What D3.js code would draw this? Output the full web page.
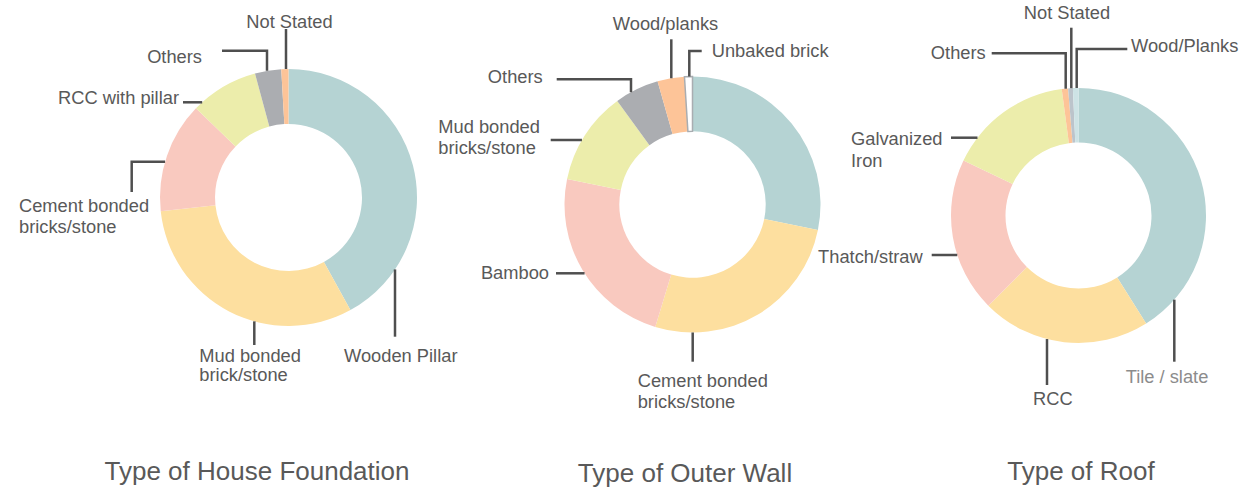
<!DOCTYPE html>
<html>
<head>
<meta charset="utf-8">
<script src="https://cdn.jsdelivr.net/npm/d3@7"></script>
<style>
  body { margin: 0; background: #fff; }
  svg text { font-family: "Liberation Sans", Arial, sans-serif; }
</style>
</head>
<body>
<script>
var width = 1243;
var height = 488;

// data (percent of households)
var foundationCats = ["Wooden Pillar", "Mud bonded brick/stone", "Cement bonded bricks/stone", "RCC with pillar", "Others", "Not Stated"];
var foundationVals = [42.0, 31.3, 13.9, 8.6, 3.3, 0.9];

var wallCats = ["", "Cement bonded bricks/stone", "Bamboo", "Mud bonded bricks/stone", "Others", "Wood/planks", "Unbaked brick"];
var wallVals = [28.2, 26.5, 23.5, 11.8, 5.6, 3.4, 1.0];

var roofCats = ["Tile / slate", "RCC", "Thatch/straw", "Galvanized Iron", "Others", "Not Stated", "Wood/Planks"];
var roofVals = [41.1, 21.4, 19.6, 15.8, 0.8, 0.6, 0.7];

var titles = ["Type of House Foundation", "Type of Outer Wall", "Type of Roof"];

// colours
var teal = "#b5d3d3", yellow = "#fddf9f", pink = "#f9c9bf", lime = "#ecedab",
    grey = "#abadb1", peach = "#fdc498";
var foundationCols = [teal, yellow, pink, lime, grey, peach];
var wallCols = [teal, yellow, pink, lime, grey, peach, "#ffffff"];
var roofCols = [teal, yellow, pink, lime, peach, "#bcc4cb", "#cde3e5"];

// label layout (relative to donut centre); leader kinds:
// v: vertical from ring, h: horizontal from ring, vh / hv: elbows
var foundationLabels = [
  {lines: ["Wooden Pillar"], tx: 55.5, ty: 164.8, anchor: "start", leader: {kind: "v", x: 106.5, side: 1, to: 139.2}},
  {lines: ["Mud bonded", "brick/stone"], tx: -89.2, ty: 164.8, lh: 18.7, anchor: "start", leader: {kind: "v", x: -34.2, side: 1, to: 147.5}},
  {lines: ["Cement bonded", "bricks/stone"], tx: -269.5, ty: 14.8, lh: 20.7, anchor: "start", leader: {kind: "hv", y: -35.8, x: -156.8, to: -5.5}},
  {lines: ["RCC with pillar"], tx: -109.5, ty: -93.5, anchor: "end", leader: {kind: "h", y: -95.2, side: -1, to: -105.5}},
  {lines: ["Others"], tx: -86.5, ty: -134.8, anchor: "end", leader: {kind: "vh", x: -21.5, y: -146.8, to: -66.5}},
  {lines: ["Not Stated"], tx: 1, ty: -169.5, anchor: "middle", leader: {kind: "v", x: -2.5, side: -1, to: -168.5}}
];

var wallLabels = [
  null,
  {lines: ["Cement bonded", "bricks/stone"], tx: -54.8, ty: 182.2, lh: 21.6, anchor: "start", leader: {kind: "v", x: 0.2, side: 1, to: 157.2}},
  {lines: ["Bamboo"], tx: -143.5, ty: 74.8, anchor: "end", leader: {kind: "h", y: 68.8, side: -1, to: -136.5}},
  {lines: ["Mud bonded", "bricks/stone"], tx: -254.2, ty: -71.5, lh: 20.5, anchor: "start", leader: {kind: "h", y: -64.5, side: -1, to: -141.8}},
  {lines: ["Others"], tx: -149.8, ty: -121.2, anchor: "end", leader: {kind: "vh", x: -61.5, y: -125.2, to: -135.8}},
  {lines: ["Wood/planks"], tx: -27, ty: -174.8, anchor: "middle", leader: {kind: "v", x: -21.2, side: -1, to: -165.2}},
  {lines: ["Unbaked brick"], tx: 19.2, ty: -147.2, anchor: "start", leader: {kind: "vh", x: -3.2, y: -153.5, to: 9.2}}
];

var roofLabels = [
  {lines: ["Tile / slate"], tx: 47.2, ty: 167.2, anchor: "start", color: "#8c8c8c", leader: {kind: "v", x: 95.8, side: 1, to: 146.2}},
  {lines: ["RCC"], tx: -25.7, ty: 189.5, anchor: "middle", leader: {kind: "v", x: -31.5, side: 1, to: 169.5}},
  {lines: ["Thatch/straw"], tx: -155.8, ty: 47.2, anchor: "end", leader: {kind: "h", y: 39.5, side: -1, to: -146.8}},
  {lines: ["Galvanized", "Iron"], tx: -227.5, ty: -70.5, lh: 21.7, anchor: "start", leader: {kind: "h", y: -77.8, side: -1, to: -127.5}},
  {lines: ["Others"], tx: -92.8, ty: -156.2, anchor: "end", leader: {kind: "vh", x: -12.8, y: -162.2, to: -86.8}},
  {lines: ["Not Stated"], tx: -11.5, ty: -196.5, anchor: "middle", leader: {kind: "v", x: -7.2, side: -1, to: -187.8}},
  {lines: ["Wood/Planks"], tx: 52.5, ty: -163.2, anchor: "start", leader: {kind: "vh", x: -1.8, y: -166.5, to: 48.8}}
];

var charts = [
  {cats: foundationCats, vals: foundationVals, cols: foundationCols, labels: foundationLabels, cx: 288.5, cy: 197.5, R: 128.5, r: 73.5, title: titles[0], titleX: 257, titleY: 480},
  {cats: wallCats, vals: wallVals, cols: wallCols, labels: wallLabels, cx: 692.5, cy: 204.5, R: 128, r: 73.2, title: titles[1], titleX: 685, titleY: 482},
  {cats: roofCats, vals: roofVals, cols: roofCols, labels: roofLabels, cx: 1078.5, cy: 215.5, R: 127.5, r: 73, title: titles[2], titleX: 1081, titleY: 480}
];

var textCol = "#595959";
var lineCol = "#4f4f4f";

var svg = d3.select("body").append("svg")
    .attr("width", width)
    .attr("height", height);

var pie = d3.pie().sort(null).value(function(d) { return d; });

charts.forEach(function(c) {
  var g = svg.append("g")
      .attr("transform", "translate(" + c.cx + "," + c.cy + ")");

  var arc = d3.arc().innerRadius(c.r).outerRadius(c.R);

  g.selectAll("path.slice")
    .data(pie(c.vals))
    .enter().append("path")
      .attr("class", "slice")
      .attr("d", arc)
      .style("fill", function(d, i) { return c.cols[i]; })
      .style("stroke", function(d, i) { return c.cols[i] == "#ffffff" ? "#a9adb1" : "none"; })
      .style("stroke-width", 1.5);

  // where a leader meets the outer ring
  function ringY(x, side) { return side * Math.sqrt(c.R * c.R - x * x); }
  function ringX(y, side) { return side * Math.sqrt(c.R * c.R - y * y); }

  c.labels.forEach(function(l, i) {
    if (!l) return;
    var L = l.leader, pts;
    if (L.kind == "v") pts = [[L.x, ringY(L.x, L.side)], [L.x, L.to]];
    else if (L.kind == "h") pts = [[ringX(L.y, L.side), L.y], [L.to, L.y]];
    else if (L.kind == "vh") pts = [[L.x, ringY(L.x, -1)], [L.x, L.y], [L.to, L.y]];
    else pts = [[ringX(L.y, -1), L.y], [L.x, L.y], [L.x, L.to]];

    g.append("path")
      .attr("d", d3.line()(pts))
      .style("fill", "none")
      .style("stroke", lineCol)
      .style("stroke-width", 2.5);

    var t = g.append("text")
      .attr("x", l.tx)
      .attr("y", l.ty)
      .attr("text-anchor", l.anchor)
      .style("font-size", "18.3px")
      .style("fill", l.color || textCol);
    l.lines.forEach(function(s, k) {
      t.append("tspan")
        .attr("x", l.tx)
        .attr("dy", k == 0 ? 0 : l.lh)
        .text(s);
    });
  });

  svg.append("text")
    .attr("x", c.titleX)
    .attr("y", c.titleY)
    .attr("text-anchor", "middle")
    .style("font-size", "26px")
    .style("fill", textCol)
    .text(c.title);
});
</script>
</body>
</html>
